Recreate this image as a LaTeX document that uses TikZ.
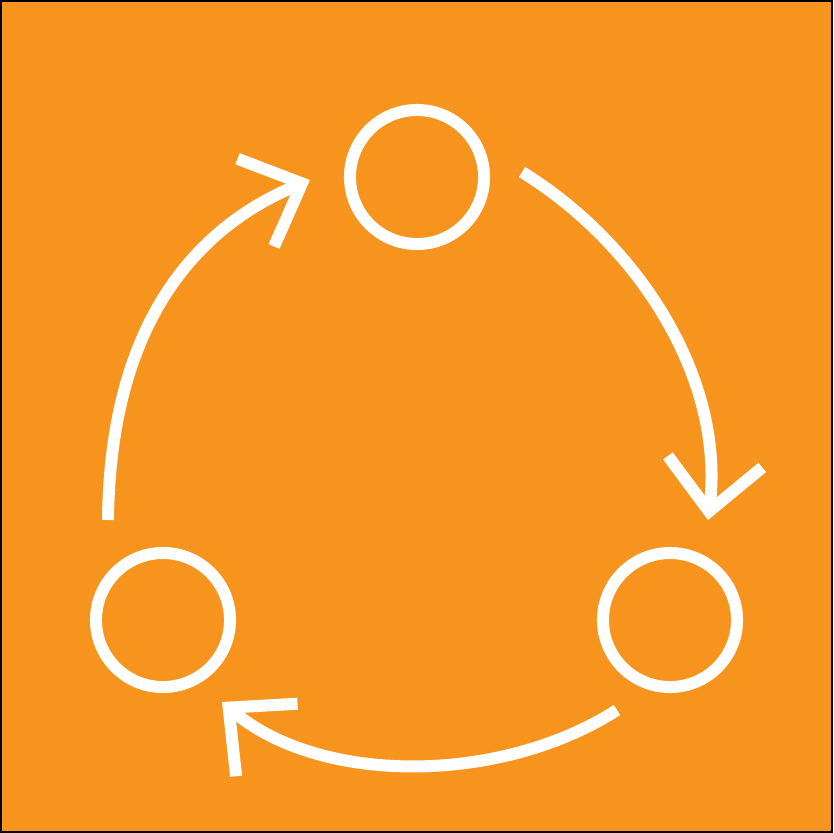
\documentclass[tikz,border=0pt]{standalone}
\usepackage{xcolor}
\usepackage{tikz}
\usetikzlibrary{arrows.meta}

\definecolor{cycleorange}{HTML}{F7941E}

\begin{document}
\begin{tikzpicture}[x=0.01cm, y=-0.01cm, line width=0.12cm, white]
		\useasboundingbox (0,0) rectangle (833,833);
		\draw[black, line width=0.02cm, fill=cycleorange] (1,1) rectangle (832,832);

		\node[
			circle, draw=white, minimum size=1.34cm, inner sep=0pt
		] (Top) at (417,177) {};
		\node[
			circle, draw=white, minimum size=1.34cm, inner sep=0pt
		] (Left) at (163,620) {};
		\node[
			circle, draw=white, minimum size=1.34cm, inner sep=0pt
		] (Right) at (670,620) {};

		\coordinate (L0) at (108,520);
		\coordinate (L1) at (310,180);
		\coordinate (R0) at (522,172);
		\coordinate (R1) at (708,520);
		\coordinate (B0) at (617,710);
		\coordinate (B1) at (222,702);

		\draw [-{Straight Barb[length=0.5cm, width=0.95cm, line join=miter]}]
			(L0) .. controls (110,330) and (190,230) .. (L1);
		\draw [-{Straight Barb[length=0.5cm, width=0.95cm, line join=miter]}]
			(R0) .. controls (640,245) and (725,380) .. (R1);
		\draw [-{Straight Barb[length=0.5cm, width=0.95cm, line join=miter]}]
			(B0) .. controls (500,785) and (320,785) .. (B1);
	\end{tikzpicture}
\end{document}
